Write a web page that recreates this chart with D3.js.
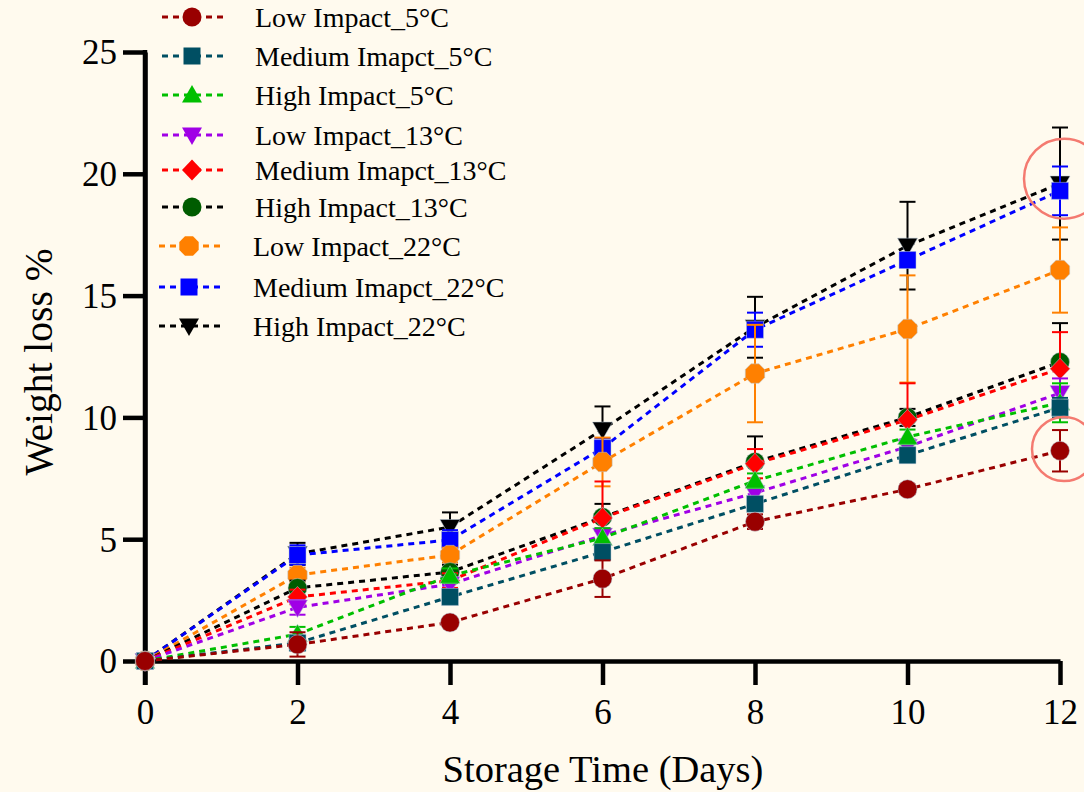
<!DOCTYPE html>
<html>
<head>
<meta charset="utf-8">
<script src="https://cdn.jsdelivr.net/npm/d3@7"></script>
<style>
  html, body { margin: 0; padding: 0; background: #fffaee; }
  svg { display: block; font-family: 'Liberation Serif', 'Times New Roman', serif; }
</style>
</head>
<body>
<div id="chart"></div>
<script>
// storage days
const days = [0, 2, 4, 6, 8, 10, 12];

// series names (as written in the original legend)
const seriesNames = [
  'Low Impact_5°C', 'Medium Imapct_5°C', 'High Impact_5°C',
  'Low Impact_13°C', 'Medium Imapct_13°C', 'High Impact_13°C',
  'Low Impact_22°C', 'Medium Imapct_22°C', 'High Impact_22°C'
];

// mean weight loss % per series
const low5 = [0, 0.68, 1.58, 3.38, 5.72, 7.05, 8.63];
const med5 = [0, 0.74, 2.63, 4.47, 6.45, 8.45, 10.4];
const high5 = [0, 1.1, 3.5, 5.05, 7.4, 9.2, 10.6];
const low13 = [0, 2.2, 3.15, 5.15, 6.9, 8.8, 11.0];
const med13 = [0, 2.63, 3.3, 5.87, 8.1, 9.9, 12.0];
const high13 = [0, 3.0, 3.65, 5.9, 8.17, 10.0, 12.27];
const low22 = [0, 3.53, 4.35, 8.17, 11.8, 13.63, 16.05];
const med22 = [0, 4.35, 4.97, 8.74, 13.6, 16.46, 19.3];
const high22 = [0, 4.4, 5.5, 9.5, 13.7, 17.05, 19.6];

// error (+/-) per series
const low5Err = [0, 0.5, 0.15, 0.75, 0.3, 0.2, 0.85];
const med5Err = [0, 0.3, 0.3, 0.3, 0.25, 0.3, 0.4];
const high5Err = [0, 0.3, 0.3, 0.4, 0.3, 0.3, 0.8];
const low13Err = [0, 0.3, 0.2, 0.3, 0.2, 0.3, 0.6];
const med13Err = [0, 0.3, 0.3, 1.5, 0.6, 1.5, 1.5];
const high13Err = [0, 0.3, 0.3, 0.55, 1.05, 0.35, 1.6];
const low22Err = [0, 0.3, 0.3, 1.0, 2.0, 2.2, 1.75];
const med22Err = [0, 0.4, 0.4, 0.4, 0.7, 0.3, 1.0];
const high22Err = [0, 0.45, 0.6, 0.95, 1.25, 1.8, 2.3];

const yTicks = [0, 5, 10, 15, 20, 25];
const xTicks = [0, 2, 4, 6, 8, 10, 12];

const values = [low5, med5, high5, low13, med13, high13, low22, med22, high22];
const errors = [low5Err, med5Err, high5Err, low13Err, med13Err, high13Err, low22Err, med22Err, high22Err];
const markerColors = ['#990000', '#004f63', '#00bf00', '#a000e6', '#ff0000', '#005c00', '#ff8000', '#0000ff', '#000000'];
const lineColors = ['#990000', '#004f63', '#00bf00', '#a000e6', '#ff0000', '#000000', '#ff8000', '#0000ff', '#000000'];
const barColors = ['#990000', '#004f63', '#00bf00', '#a000e6', '#ff0000', '#000000', '#ff8000', '#0000ff', '#000000'];
const shapes = ['circle', 'square', 'triUp', 'triDown', 'diamond', 'circle', 'octagon', 'square', 'triDown'];

const series = seriesNames.map((name, i) => ({
  name,
  color: markerColors[i],
  lineColor: lineColors[i],
  barColor: barColors[i],
  shape: shapes[i],
  points: days.map((d, j) => ({ day: d, value: values[i][j], err: errors[i][j] })),
}));

function shapePath(type) {
  switch (type) {
    case 'circle':
      return d3.symbol().type(d3.symbolCircle).size(Math.PI * 9.5 * 9.5)();
    case 'square':
      return 'M-8.5,-8.5H8.5V8.5H-8.5Z';
    case 'triUp':
      return 'M0,-10L10,7.5L-10,7.5Z';
    case 'triDown':
      return 'M0,10L10,-7.5L-10,-7.5Z';
    case 'diamond':
      return 'M0,-10.5L10,0L0,10.5L-10,0Z';
    case 'octagon': {
      const r = 10.5;
      const pts = d3.range(8).map((k) => {
        const a = Math.PI / 8 + k * Math.PI / 4;
        return [r * Math.cos(a), r * Math.sin(a)];
      });
      return 'M' + pts.map((p) => p.join(',')).join('L') + 'Z';
    }
  }
}

const width = 1084;
const height = 792;

const svg = d3.select('#chart')
  .append('svg')
  .attr('width', width)
  .attr('height', height);

svg.append('rect').attr('width', width).attr('height', height).attr('fill', '#fffaee');

const xScale = d3.scaleLinear().domain([0, 12]).range([145, 1060]);
const yScale = d3.scaleLinear().domain([0, 25]).range([661, 52]);

// axes
const xAxis = svg.append('g')
  .attr('transform', `translate(0, ${yScale(0)})`)
  .call(d3.axisBottom(xScale).tickValues(xTicks).tickSize(24).tickPadding(14).tickSizeOuter(0));

const yAxis = svg.append('g')
  .attr('transform', `translate(${xScale(0)}, 0)`)
  .call(d3.axisLeft(yScale).tickValues(yTicks).tickSize(22).tickPadding(6).tickSizeOuter(0));

[xAxis, yAxis].forEach((ax) => {
  ax.select('.domain').attr('stroke', '#000').attr('stroke-width', 4.5);
  ax.selectAll('.tick line').attr('stroke', '#000').attr('stroke-width', 4.5);
  ax.selectAll('.tick text')
    .attr('fill', '#000')
    .style('font-family', "'Liberation Serif', 'Times New Roman', serif")
    .style('font-size', '35px');
});
yAxis.selectAll('.tick text').attr('dy', '0.34em');

// extend y axis domain line through the x axis
svg.append('line')
  .attr('x1', xScale(0)).attr('x2', xScale(0))
  .attr('y1', yScale(25) - 2).attr('y2', yScale(0) + 24)
  .attr('stroke', '#000').attr('stroke-width', 4.5);

// axis titles
svg.append('text')
  .attr('x', 603).attr('y', 782)
  .attr('text-anchor', 'middle')
  .style('font-size', '38.5px')
  .text('Storage Time (Days)');

svg.append('text')
  .attr('transform', 'translate(52, 362) rotate(-90)')
  .attr('text-anchor', 'middle')
  .style('font-size', '39.5px')
  .text('Weight loss %');

const line = d3.line()
  .x((d) => xScale(d.day))
  .y((d) => yScale(d.value));

const plot = svg.append('g').attr('class', 'series');

// first series ends up on top, like the original
series.slice().reverse().forEach((s) => {
  const g = plot.append('g');

  g.append('path')
    .datum(s.points)
    .attr('d', line)
    .attr('fill', 'none')
    .attr('stroke', s.lineColor)
    .attr('stroke-width', 3)
    .attr('stroke-dasharray', '6,5');

  const bars = g.selectAll('.err')
    .data(s.points.filter((d) => d.err > 0))
    .join('g')
    .attr('stroke', s.barColor)
    .attr('stroke-width', 2);

  bars.append('line')
    .attr('x1', (d) => xScale(d.day)).attr('x2', (d) => xScale(d.day))
    .attr('y1', (d) => yScale(d.value + d.err)).attr('y2', (d) => yScale(d.value - d.err));
  bars.append('line')
    .attr('x1', (d) => xScale(d.day) - 8).attr('x2', (d) => xScale(d.day) + 8)
    .attr('y1', (d) => yScale(d.value + d.err)).attr('y2', (d) => yScale(d.value + d.err));
  bars.append('line')
    .attr('x1', (d) => xScale(d.day) - 8).attr('x2', (d) => xScale(d.day) + 8)
    .attr('y1', (d) => yScale(d.value - d.err)).attr('y2', (d) => yScale(d.value - d.err));

  g.selectAll('.mark')
    .data(s.points)
    .join('path')
    .attr('transform', (d) => `translate(${xScale(d.day)}, ${yScale(d.value)})`)
    .attr('d', shapePath(s.shape))
    .attr('fill', s.color)
    .attr('stroke', '#b8c8d8')
    .attr('stroke-opacity', 0.5)
    .attr('stroke-width', 1);
});

// legend
const legendRows = [17, 56, 95, 135, 170, 207, 246, 287, 326];
const legend = svg.append('g').attr('class', 'legend');

series.forEach((s, i) => {
  const y = legendRows[i];
  const cx = i < 6 ? 192 : 189;
  const row = legend.append('g');
  row.append('line')
    .attr('x1', cx - 30).attr('x2', cx + 31)
    .attr('y1', y).attr('y2', y)
    .attr('stroke', s.lineColor)
    .attr('stroke-width', 3)
    .attr('stroke-dasharray', '6,5');
  row.append('path')
    .attr('transform', `translate(${cx}, ${y})`)
    .attr('d', shapePath(s.shape))
    .attr('fill', s.color);
  row.append('text')
    .attr('x', i < 6 ? 255 : 253)
    .attr('y', y)
    .attr('dy', '0.35em')
    .style('font-size', '28px')
    .text(s.name);
});

// highlight circles at day 12
const highlights = [
  { day: 12, value: 19.8, r: 40 },
  { day: 12, value: 8.7, r: 32 },
];
svg.append('g')
  .selectAll('circle')
  .data(highlights)
  .join('circle')
  .attr('cx', (d) => xScale(d.day) + 4)
  .attr('cy', (d) => yScale(d.value))
  .attr('r', (d) => d.r)
  .attr('fill', 'none')
  .attr('stroke', '#f47a70')
  .attr('stroke-width', 2.5);
</script>
</body>
</html>
